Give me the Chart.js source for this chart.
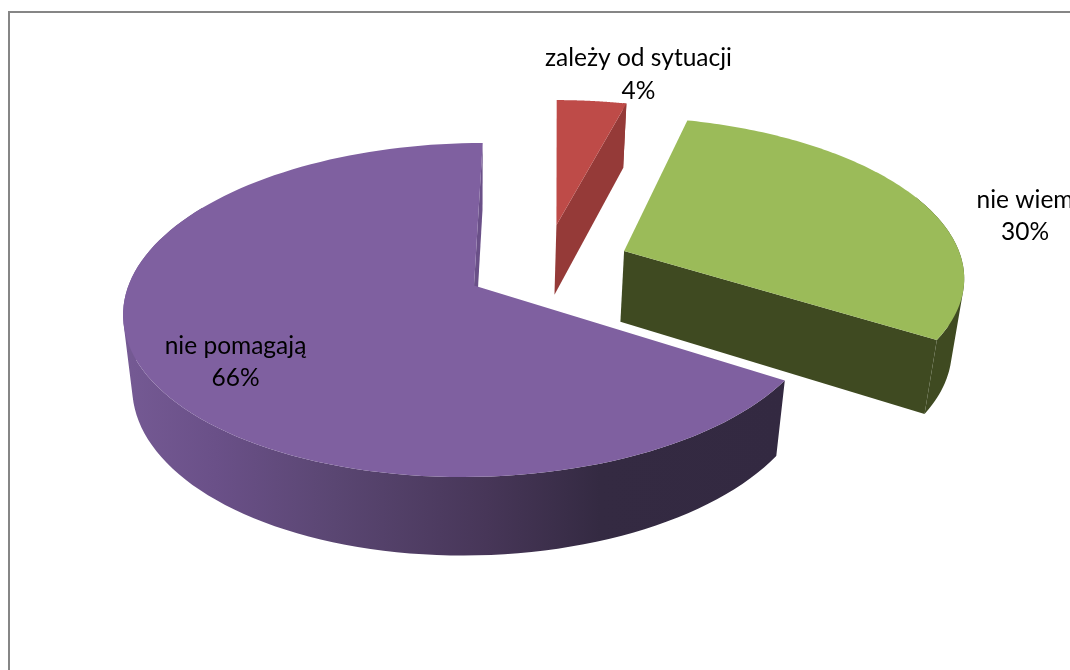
<!DOCTYPE html>
<html><head><meta charset="utf-8">
<style>html,body{margin:0;padding:0;background:#fff}canvas{display:block}</style>
<script src="https://cdn.jsdelivr.net/npm/chart.js@4/dist/chart.umd.min.js"></script>
</head><body><canvas id="c" width="1070" height="670"></canvas>
<script>
const categories = ['zależy od sytuacji', 'nie wiem', 'nie pomagają'];
const values = [4, 30, 66];
const percentLabels = ['4%', '30%', '66%'];

// styling
const topColors = ['#BE4B48', '#9BBB59', '#7F60A0'];
const wallColors = ['#953A38', '#3F4A21', '#6A5088'];
const explode = [[0.241, 0.3915], [0.442, 0.218], [0, 0]];
const sliceScale = [0.97, 1, 1];
const sliceShear = [0.007, 0, 0];
const wallRange = [[0.95, 1], [0.5, 1], [0, 0.75]];
const labelPos = [[638.5, 58], [1025, 200], [235.5, 346]];
const labelGap = [33, 32, 32];
const P = {cx:474, cy:285.5, A:345.5, C:10, B:163.4, E:74, p:0.1468, q:0, r:0.026};

function project(X, Y, low) {
  const w = 1 + P.p*Y + P.q*X + (low ? P.r : 0);
  return [P.cx + (P.A*X + P.C*Y)/w, P.cy + (-P.B*Y + (low ? P.E : 0))/w];
}
function trace(ctx, pts) {
  pts.forEach((q,i)=> i ? ctx.lineTo(q[0],q[1]) : ctx.moveTo(q[0],q[1]));
  ctx.closePath();
}
function polygon(ctx, pts, fill) {
  ctx.beginPath();
  trace(ctx, pts);
  ctx.fillStyle = fill; ctx.fill();
}
function signedArea(pts) {
  let s = 0;
  pts.forEach((q,i)=>{ const r = pts[(i+1)%pts.length]; s += q[0]*r[1] - r[0]*q[1]; });
  return s;
}
const pie3d = {
  id:'pie3d',
  beforeDatasetsDraw(chart) {
    const ctx = chart.ctx;
    // frame
    ctx.save();
    ctx.fillStyle = '#868686';
    ctx.fillRect(8, 11, 1062, 2);
    ctx.fillRect(8, 11, 2, 659);
    const arcs = chart.getDatasetMeta(0).data;
    arcs.forEach((arc, i) => {
      const [ex, ey] = explode[i];
      const n = 120, top = [], low = [];
      for (let k = 0; k <= n; k++) {
        const a = arc.startAngle + (arc.endAngle - arc.startAngle)*k/n;
        const s = sliceScale[i];
        const Ly = -Math.sin(a)*s;
        const X = ex + Math.cos(a)*s + sliceShear[i]*Ly, Y = ey + Ly;
        top.push(project(X, Y, false));
        low.push(project(X, Y, true));
      }
      const at = project(ex, ey, false), al = project(ex, ey, true);
      // outer wall, then the closing radial wall, then the top face
      let wallFill = wallColors[i];
      if (i === 2) {
        const g = ctx.createLinearGradient(123, 0, 785, 0);
        g.addColorStop(0, '#755A94');
        g.addColorStop(0.14, '#6A5088');
        g.addColorStop(0.32, '#5A4672');
        g.addColorStop(0.55, '#473658');
        g.addColorStop(0.72, '#342A42');
        g.addColorStop(1, '#332941');
        wallFill = g;
      }
      ctx.beginPath();
      for (let k = Math.round(wallRange[i][0]*n); k < Math.round(wallRange[i][1]*n); k++) {
        const quad = [top[k], top[k+1], low[k+1], low[k]];
        trace(ctx, signedArea(quad) < 0 ? quad.reverse() : quad);
      }
      ctx.fillStyle = wallFill;
      ctx.fill('nonzero');
      polygon(ctx, [at, top[n], low[n], al], wallColors[i]);
      polygon(ctx, [at].concat(top), topColors[i]);
    });
    // labels
    ctx.fillStyle = '#000';
    ctx.font = '24.5px Lato';
    ctx.textAlign = 'center';
    ctx.textBaseline = 'middle';
    categories.forEach((t, i) => {
      ctx.fillText(t, labelPos[i][0], labelPos[i][1]);
      ctx.fillText(percentLabels[i], labelPos[i][0], labelPos[i][1] + labelGap[i]);
    });
    ctx.restore();
    return false;
  }
};
new Chart(document.getElementById('c'), {
  type:'pie',
  data:{labels:categories, datasets:[{data:values, backgroundColor:topColors}]},
  options:{responsive:false, animation:false, rotation:0,
    plugins:{legend:{display:false}, tooltip:{enabled:false}}},
  plugins:[pie3d]
});
</script></body></html>
